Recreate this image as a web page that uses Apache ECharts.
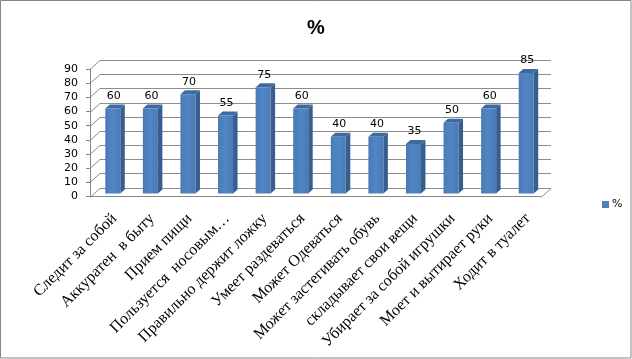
<!DOCTYPE html>
<html>
<head>
<meta charset="utf-8">
<script src="https://cdn.jsdelivr.net/npm/echarts@6/dist/echarts.min.js"></script>
<style>html,body{margin:0;padding:0;background:#fff}#c{width:632px;height:359px}</style>
</head>
<body>
<div id="c"></div>
<script>
const categories = ['Следит за собой','Аккуратен  в быту','Прием пищи','Пользуется  носовым…','Правильно держит ложку','Умеет раздеваться','Может Одеваться','Может застегивать обувь','складывает свои вещи','Убирает за собой игрушки','Моет и вытирает руки','Ходит в туалет'];
const values = [60,60,70,55,75,60,40,40,35,50,60,85];
const yTicks = [0,10,20,30,40,50,60,70,80,90];
const seriesName = '%';

const DX = 10, DY = -9;      // wall depth
const BDX = 4.5, BDY = -4;   // bar depth
const chart = echarts.init(document.getElementById('c'), null, {renderer:'canvas'});
chart.setOption({
  animation:false,
  title:{text:'%', left:'center', top:13, textStyle:{fontFamily:'Liberation Sans', fontWeight:'bold', fontSize:20, color:'#000'}},
  legend:{data:[seriesName], left:597, top:194, icon:'rect', itemWidth:7, itemHeight:7, itemGap:4,
    textStyle:{fontFamily:'DejaVu Sans', fontSize:11, color:'#000', padding:[0,0,0,-2]}},
  grid:{left:90, right:91, top:69, bottom:162.5},
  xAxis:{type:'category', data:categories,
    axisLine:{lineStyle:{color:'#868686'}},
    axisTick:{length:5, lineStyle:{color:'#868686'}},
    axisLabel:{rotate:45, margin:14, interval:0, verticalAlign:'top', fontFamily:'Liberation Serif', fontSize:16, color:'#000'}},
  yAxis:{type:'value', min:0, max:90, interval:10,
    axisLine:{show:true, lineStyle:{color:'#868686'}},
    axisTick:{show:true, length:4, lineStyle:{color:'#868686'}},
    axisLabel:{margin:12, fontFamily:'DejaVu Sans', fontSize:11, color:'#000'},
    splitLine:{show:false}},
  graphic:[{type:'rect', shape:{x:0.5,y:0.5,width:630.5,height:357.5}, style:{fill:'none', stroke:'#868686', lineWidth:1}, silent:true}],
  series:[
    {type:'custom', name:'walls', clip:false, silent:true, z:1,
      data: yTicks.map(v=>[0,v]),
      renderItem:function(params, api){
        const v = api.value(1);
        const p = api.coord([0, v]);
        const cs = params.coordSys;
        const y = Math.round(p[1])+0.5;
        const st = {stroke:'#8c8c8c', lineWidth:1};
        const ch = [
          {type:'line', shape:{x1:cs.x, y1:y, x2:cs.x+DX, y2:y+DY}, style:st},
          {type:'line', shape:{x1:cs.x+DX, y1:y+DY, x2:cs.x+cs.width+DX, y2:y+DY}, style:st}
        ];
        if (v === 0) {
          ch.push({type:'line', shape:{x1:cs.x+cs.width, y1:y, x2:cs.x+cs.width+DX, y2:y+DY}, style:st});
        }
        return {type:'group', children:ch};
      }},
    {type:'custom', name:seriesName, clip:false, z:3,
      itemStyle:{color:'#4F81BD'},
      data: values.map((v,i)=>[i,v]),
      renderItem:function(params, api){
        const i = api.value(0), v = api.value(1);
        const top = api.coord([i, v]);
        const base = api.coord([i, 0]);
        const x0 = top[0] - 3.5, w = 15, x1 = x0 + w;
        const yt = top[1] - 3, yb = base[1] - 3;
        return {type:'group', children:[
          {type:'polygon', shape:{points:[[x1,yt],[x1+BDX,yt+BDY],[x1+BDX,yb+BDY],[x1,yb]]}, style:{fill:'#365E8F'}},
          {type:'polygon', shape:{points:[[x0,yt],[x1,yt],[x1+BDX,yt+BDY],[x0+BDX,yt+BDY]]}, style:{fill:'#3E6A9F'}},
          {type:'rect', shape:{x:x0, y:yt, width:w, height:yb-yt},
            style:{fill:new echarts.graphic.LinearGradient(0,0,1,0,[{offset:0,color:'#4A7AB5'},{offset:0.5,color:'#5086C4'},{offset:1,color:'#4A7AB5'}])}},
          {type:'text', style:{text:String(v), x:x0+w/2+1, y:yt+BDY-3, align:'center', verticalAlign:'bottom', fontFamily:'DejaVu Sans', fontSize:11, fill:'#000'}}
        ]};
      }}
  ]
});
</script>
</body>
</html>
